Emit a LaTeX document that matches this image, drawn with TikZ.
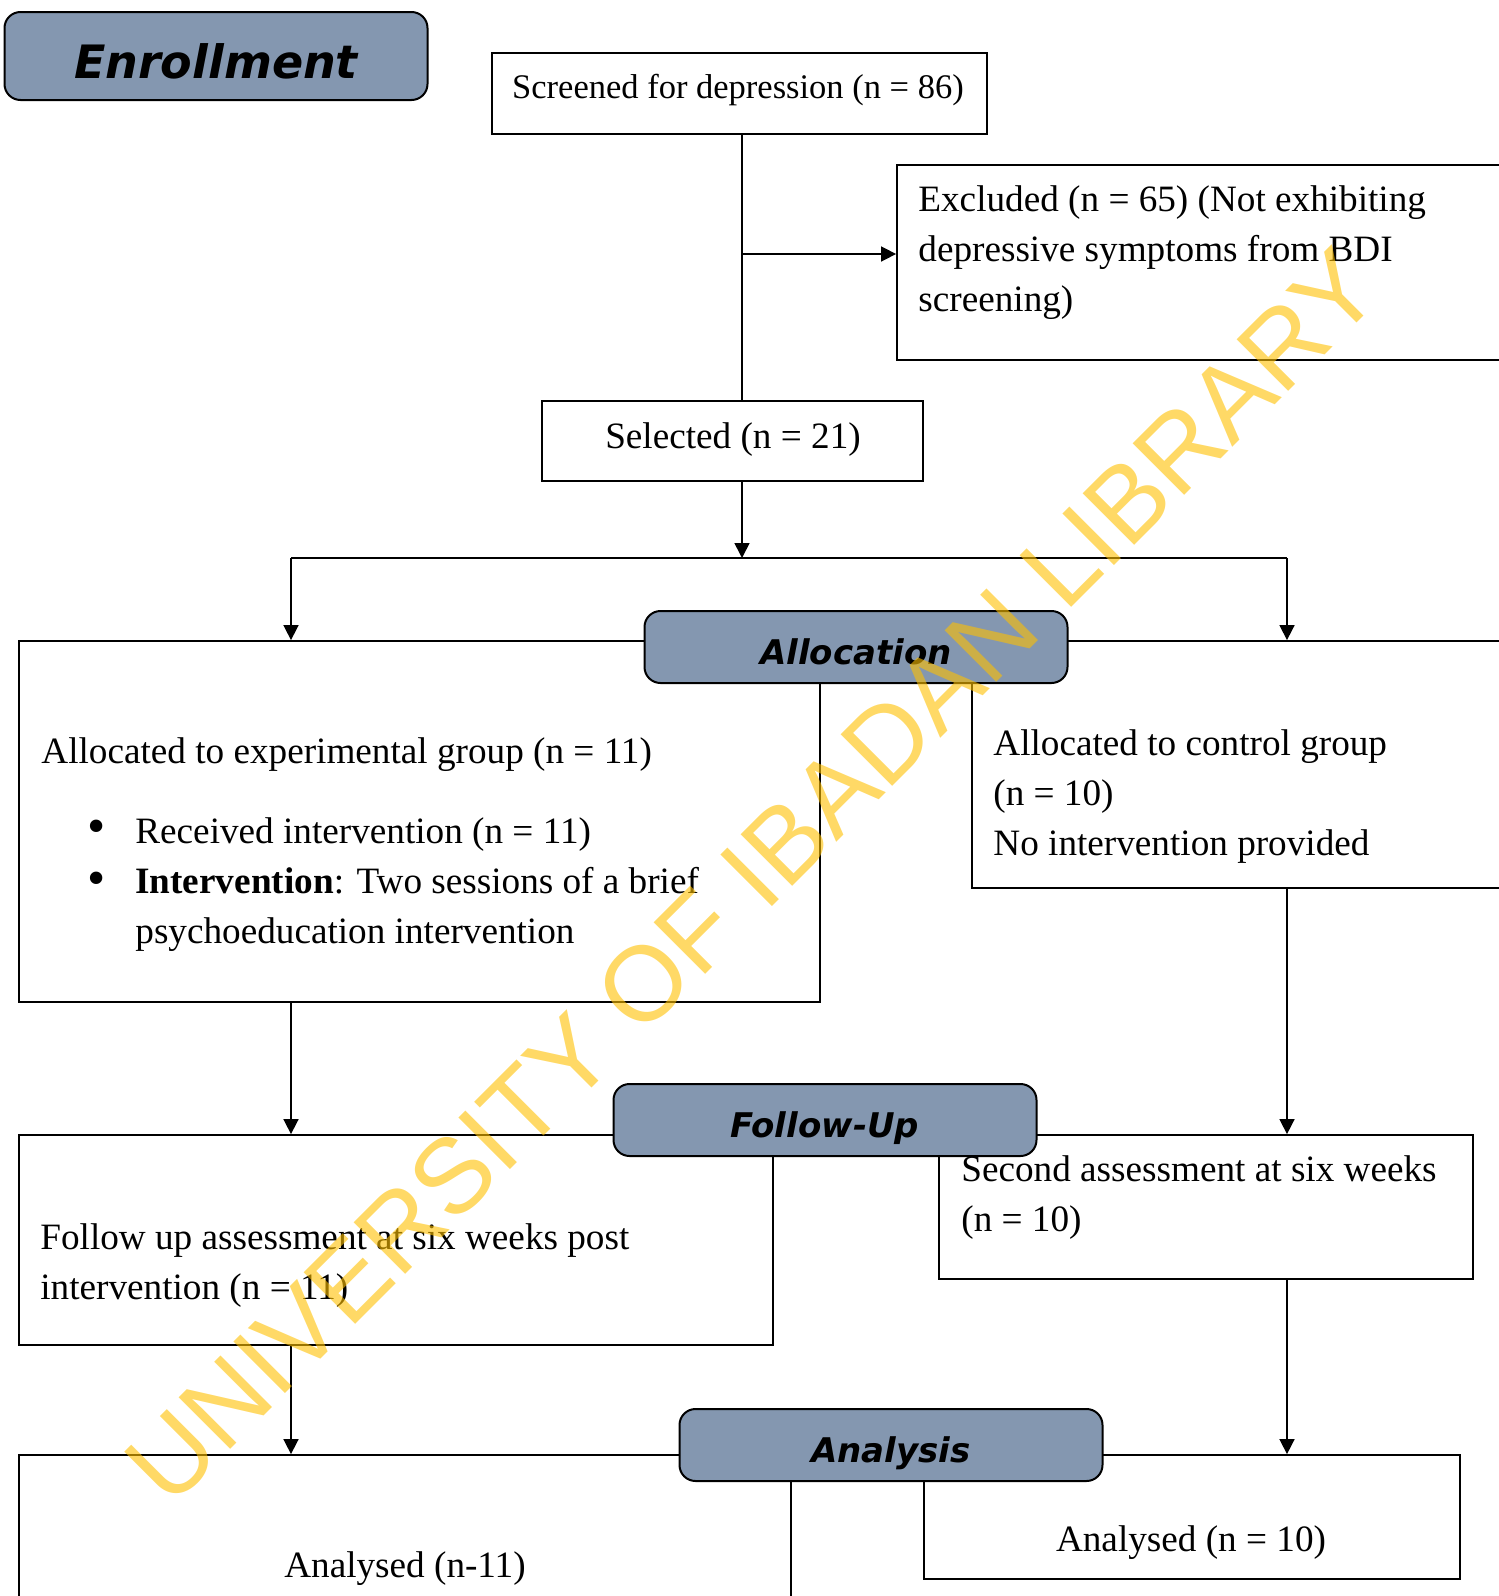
\documentclass[tikz,border=0pt]{standalone}
\usepackage{fontspec}
\setmainfont{Liberation Serif}
\newfontfamily\stagefont{DejaVu Sans}
\newfontfamily\markfont{Liberation Sans}
\usetikzlibrary{arrows.meta,fit}
\definecolor{stageblue}{HTML}{8497B0}
\definecolor{markyellow}{HTML}{FFC000}

\begin{document}
\begin{tikzpicture}[x=0.5pt,y=-0.5pt,
    frame/.style={draw,line width=0.9pt,inner sep=0pt},
    stage/.style={draw,line width=1pt,fill=stageblue,rounded corners=8pt,minimum width=211.5pt,minimum height=36pt,inner sep=0pt,text height=17pt,text depth=0pt,font=\stagefont\bfseries\itshape\fontsize{17}{20}\selectfont},
    txt/.style={inner sep=0pt,align=left,font=\fontsize{18.6}{25}\selectfont},
    flow/.style={line width=0.8pt,-{Triangle[length=7.5pt,width=7.5pt]}}]
  \clip (0,0) rectangle (1499,1596);
  \node[frame,fit={(492,53) (987,134)}] (scr) {};
  \node[frame,fit={(897,165) (1530,360)}] (exc) {};
  \node[frame,fit={(542,401) (923,481)}] (sel) {};
  \node[frame,fit={(19,641) (820,1002)}] (exp) {};
  \node[frame,fit={(972,641) (1530,888)}] (ctl) {};
  \node[frame,fit={(19,1135) (773,1345)}] (fol) {};
  \node[frame,fit={(939,1135) (1473,1279)}] (sec) {};
  \node[frame,fit={(19,1455) (791,1630)}] (anl) {};
  \node[frame,fit={(924,1455) (1460,1579)}] (anr) {};
  \node[txt,font=\fontsize{17.25}{22}\selectfont] (scrt) at (738,90) {Screened for depression (n = 86)};
  \node[txt,anchor=west] (exct) at (918,253) {Excluded (n = 65) (Not exhibiting\\depressive symptoms from BDI\\screening)};
  \node[txt] (selt) at (733,440) {Selected (n = 21)};
  \node[txt,anchor=west] (expt) at (41,755) {Allocated to experimental group (n = 11)};
  \node[txt,font=\fontsize{26}{25}\selectfont] (dot1) at (97,832) {\textbullet};
  \node[txt,font=\fontsize{26}{25}\selectfont] (dot2) at (97,884) {\textbullet};
  \node[txt,anchor=west] (expl) at (135,885) {Received intervention (n = 11)\\\textbf{Intervention}: Two sessions of a brief\\psychoeducation intervention};
  \node[txt,anchor=west] (ctlt) at (993,797) {Allocated to control group\\(n = 10)\\No intervention provided};
  \node[txt,anchor=west] (folt) at (40,1266) {Follow up assessment at six weeks post\\intervention (n = 11)};
  \node[txt,anchor=west] (sect) at (961,1198) {Second assessment at six weeks\\(n = 10)};
  \node[txt] (anlt) at (405,1569) {Analysed (n-11)};
  \node[txt] (anrt) at (1191,1543) {Analysed (n = 10)};
  \coordinate (spine) at (742,254);
  \coordinate (split) at (742,558);
  \coordinate (colL) at (291,558);
  \coordinate (colR) at (1287,558);
  \draw[line width=0.8pt] (scr.south -| spine) -- (sel.north -| spine);
  \draw[flow] (spine) -- (exc.west |- spine);
  \draw[flow] (sel.south -| split) -- (split);
  \draw[line width=0.8pt] (colL) -- (colR);
  \draw[flow] (colL) -- (exp.north -| colL);
  \draw[flow] (colR) -- (ctl.north -| colR);
  \draw[flow] (exp.south -| colL) -- (fol.north -| colL);
  \draw[flow] (ctl.south -| colR) -- (sec.north -| colR);
  \draw[flow] (fol.south -| colL) -- (anl.north -| colL);
  \draw[flow] (sec.south -| colR) -- (anr.north -| colR);
  \node[stage,minimum height=44pt,text height=22pt,font=\stagefont\bfseries\itshape\fontsize{23}{26}\selectfont] (enr) at (216,56) {Enrollment};
  \node[stage] (alc) at (856,647) {Allocation};
  \node[stage] (fup) at (825,1120) {Follow-Up};
  \node[stage] (ana) at (891,1445) {Analysis};
  \node[rotate=45,inner sep=0pt,text=markyellow,opacity=0.6,font=\markfont\fontsize{53}{60}\selectfont] (mark) at (752,876) {UNIVERSITY OF IBADAN LIBRARY};
\end{tikzpicture}
\end{document}
